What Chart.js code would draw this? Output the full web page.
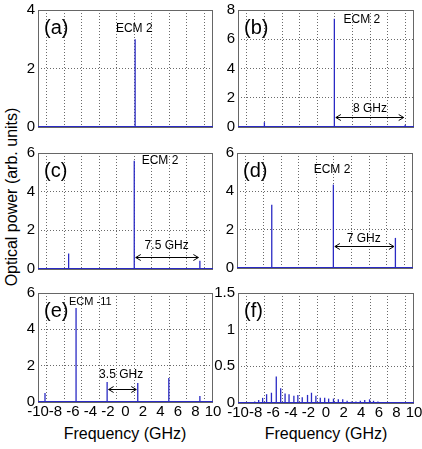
<!DOCTYPE html>
<html><head><meta charset="utf-8">
<script src="https://cdn.jsdelivr.net/npm/chart.js@4.4.1/dist/chart.umd.min.js"></script>
<style>
html,body{margin:0;padding:0;background:#fff}
body{width:422px;height:449px;position:relative;overflow:hidden;font-family:"Liberation Sans",Arial,sans-serif;color:#000}
canvas{position:absolute}
.xt{position:absolute;font-size:16px;transform:translate(-50%,-50%);white-space:nowrap}
.yt{position:absolute;font-size:16px;white-space:nowrap;transform:translate(-50%,-50%) rotate(-90deg)}
</style></head><body>
<div class="yt" style="left:12px;top:197px">Optical power (arb. units)</div>
<div class="xt" style="left:125px;top:434px">Frequency (GHz)</div>
<div class="xt" style="left:326px;top:434px">Frequency (GHz)</div>
<script>
// Spectral lines of each panel: frequency offset (GHz) and optical power (arb. units)
const freqA = [1.1];
const powerA = [3.0];

const freqB = [-7.0, 0.95, 9.0];
const powerB = [0.33, 7.4, 0.15];

const freqC = [-6.5, 1.0, 8.5];
const powerC = [0.8, 5.6, 0.43];

const freqD = [-6.05, 0.95, 8.0];
const powerD = [3.3, 4.35, 1.57];

const freqE = [-9.2, -5.65, -2.1, 1.4, 4.95, 8.5];
const powerE = [0.5, 5.17, 1.1, 1.05, 1.32, 0.33];

const freqF = [-9.6, -9.1, -8.6, -8.1, -7.65, -7.2, -6.75, -6.2, -5.65, -5.15, -4.65, -4.2,
               -3.65, -3.2, -2.7, -2.1, -1.65, -1.15, -0.65, -0.15, 0.3, 0.85, 1.4, 1.9,
               2.4, 2.9, 3.4, 3.9, 4.4, 4.95, 5.4, 5.9, 6.4, 6.9, 7.4];
const powerF = [0.01, 0.015, 0.015, 0.02, 0.04, 0.07, 0.12, 0.14, 0.36, 0.2, 0.13, 0.12,
                0.1, 0.11, 0.08, 0.11, 0.14, 0.1, 0.07, 0.07, 0.06, 0.06, 0.05, 0.05,
                0.03, 0.02, 0.02, 0.03, 0.04, 0.05, 0.03, 0.02, 0.01, 0.01, 0.01];

// Axis ranges
const freqMin = -10, freqMax = 10, freqStep = 2;
const yMaxA = 4, yStepA = 2;
const yMaxB = 8, yStepB = 2;
const yMaxC = 6, yStepC = 2;
const yMaxD = 6, yStepD = 2;
const yMaxE = 6, yStepE = 2;
const yMaxF = 1.5, yStepF = 0.5;

// Annotations: [from GHz, to GHz, power level] and [text, GHz, power, align]
const arrowsB = [[0.95, 9.0, 0.65]];
const arrowsC = [[1.0, 8.5, 0.63]];
const arrowsD = [[0.95, 8.0, 1.13]];
const arrowsE = [[-2.1, 1.4, 0.74]];
const notesA = [['ECM 2', 1.0, 3.35, 'center']];
const notesB = [['ECM 2', 2.0, 7.37, 'left'], ['8 GHz', 5.0, 1.28, 'center']];
const notesC = [['ECM 2', 1.85, 5.59, 'left'], ['7.5 GHz', 4.7, 1.18, 'center']];
const notesD = [['ECM 2', 0.8, 5.15, 'center'], ['7 GHz', 4.4, 1.54, 'center']];
const notesE = [['ECM -11', -6.46, 5.52, 'left', 11], ['3.5 GHz', -0.5, 1.52, 'center']];

const FONT = '"Liberation Sans", Arial, sans-serif';
const LINE = '#2a2ac4';
const GRID = '#6a6a6a';
Chart.defaults.font.family = FONT;
Chart.defaults.font.size = 15;
Chart.defaults.color = '#000';

// Frame, arrows, labels and panel tags
const notesPlugin = {
  id: 'notes',
  beforeDatasetsDraw(chart, args, o) {
    const {ctx, chartArea: ca} = chart;
    ctx.save();
    ctx.strokeStyle = '#666';
    ctx.lineWidth = 1;
    ctx.strokeRect(Math.round(ca.left) + 0.5, Math.round(ca.top) + 0.5,
                   Math.round(ca.right - ca.left) - 1, Math.round(ca.bottom - ca.top));
    ctx.restore();
  },
  afterDatasetsDraw(chart, args, o) {
    const {ctx, chartArea: ca, scales: {x, y}} = chart;
    ctx.save();
    ctx.fillStyle = '#000';
    ctx.strokeStyle = '#000';
    ctx.lineWidth = 1;
    (o.arrows || []).forEach(([a, b, v]) => {
      const x1 = x.getPixelForValue(a) + 1.5, x2 = x.getPixelForValue(b) - 1.5;
      const yp = Math.round(y.getPixelForValue(v)) + 0.5;
      ctx.beginPath();
      ctx.moveTo(x1, yp); ctx.lineTo(x2, yp);
      ctx.moveTo(x1 + 5, yp - 3); ctx.lineTo(x1, yp); ctx.lineTo(x1 + 5, yp + 3);
      ctx.moveTo(x2 - 5, yp - 3); ctx.lineTo(x2, yp); ctx.lineTo(x2 - 5, yp + 3);
      ctx.stroke();
    });
    ctx.textBaseline = 'middle';
    (o.texts || []).forEach(([t, f, v, align, size]) => {
      ctx.font = (size || 12) + 'px ' + FONT;
      ctx.textAlign = align;
      ctx.fillText(t, x.getPixelForValue(f), y.getPixelForValue(v));
    });
    if (o.tag) {
      ctx.font = '20px ' + FONT;
      ctx.textAlign = 'left';
      ctx.fillText(o.tag, ca.left + 6, ca.top + 18);
    }
    ctx.restore();
  }
};
Chart.register(notesPlugin);

const YW = 36, PT = 12, PR = 12;

function panel(box, freq, power, yMax, yStep, showX, extra) {
  const [L, T, R, B] = box;
  const XH = showX ? 22 : 2;
  const cv = document.createElement('canvas');
  cv.width = YW + (R - L) + PR;
  cv.height = PT + (B - T) + XH;
  cv.style.left = (L - YW) + 'px';
  cv.style.top = (T - PT) + 'px';
  document.body.appendChild(cv);
  new Chart(cv, {
    type: 'bar',
    data: {
      datasets: [
        {type: 'line', data: [{x: freqMin, y: 0}, {x: freqMax, y: 0}],
         borderColor: LINE, borderWidth: 2, pointRadius: 0, order: 0},
        {data: freq.map((f, i) => ({x: f, y: power[i]})),
         backgroundColor: LINE, barThickness: 1.3, inflateAmount: 0, order: 1}
      ]
    },
    options: {
      responsive: false, animation: false, events: [],
      layout: {padding: {top: PT, right: PR, left: 0, bottom: 0}},
      plugins: {legend: {display: false}, tooltip: {enabled: false}, notes: extra},
      scales: {
        x: {
          type: 'linear', min: freqMin, max: freqMax, offset: false,
          ticks: {display: showX, stepSize: freqStep, autoSkip: false, maxRotation: 0,
                  padding: 1, callback: v => String(v)},
          grid: {color: GRID, drawTicks: false},
          border: {display: false, dash: [1, 2]},
          afterFit(s) { s.height = XH; }
        },
        y: {
          min: 0, max: yMax,
          ticks: {stepSize: yStep, padding: 3, callback: v => String(v)},
          grid: {color: GRID, drawTicks: false},
          border: {display: false, dash: [1, 2]},
          afterFit(s) { s.width = YW; }
        }
      }
    }
  });
}

panel([38, 10, 213, 137], freqA, powerA, yMaxA, yStepA, false, {tag: '(a)', texts: notesA});
panel([238, 10, 414, 137], freqB, powerB, yMaxB, yStepB, false, {tag: '(b)', texts: notesB, arrows: arrowsB});
panel([38, 153, 213, 279], freqC, powerC, yMaxC, yStepC, false, {tag: '(c)', texts: notesC, arrows: arrowsC});
panel([237, 153, 413, 278], freqD, powerD, yMaxD, yStepD, false, {tag: '(d)', texts: notesD, arrows: arrowsD});
panel([38, 293, 213, 402], freqE, powerE, yMaxE, yStepE, true, {tag: '(e)', texts: notesE, arrows: arrowsE});
panel([238, 293, 414, 403], freqF, powerF, yMaxF, yStepF, true, {tag: '(f)'});
</script>
</body></html>
